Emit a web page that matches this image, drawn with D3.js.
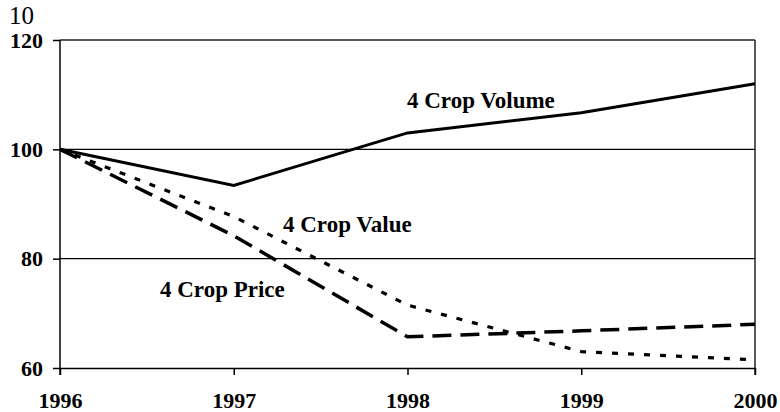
<!DOCTYPE html>
<html>
<head>
<meta charset="utf-8">
<script src="https://cdn.jsdelivr.net/npm/d3@7"></script>
<style>
  body { margin: 0; background: #fff; }
  svg text { font-family: "Liberation Serif", "Times New Roman", serif; }
</style>
</head>
<body>
<svg id="chart" width="780" height="412"></svg>
<script>
let years = [1996, 1997, 1998, 1999, 2000];
let volume = [100, 93.4, 103, 106.7, 112];
let value = [100, 87.7, 71.5, 63, 61.5];
let price = [100, 84.2, 65.7, 66.8, 68];
let yTicks = [60, 80, 100, 120];

let svg = d3.select("#chart"),
    plotLeft = 60, plotRight = 755, plotTop = 40, plotBottom = 368;

let xScale = d3.scaleLinear().domain([1996, 2000]).range([plotLeft, plotRight]),
    yScale = d3.scaleLinear().domain([60, 120]).range([plotBottom, plotTop]);

// gridlines at 80 and 100
svg.append("g")
    .selectAll("line")
    .data(yTicks.filter(d => d > 60 && d < 120))
    .enter()
    .append("line")
    .attr("x1", plotLeft).attr("x2", plotRight)
    .attr("y1", d => yScale(d)).attr("y2", d => yScale(d))
    .attr("stroke", "#000")
    .attr("stroke-width", 1.2);

// frame top and right
svg.append("line")
    .attr("x1", plotLeft).attr("x2", plotRight)
    .attr("y1", plotTop).attr("y2", plotTop)
    .attr("stroke", "#222").attr("stroke-width", 1.5);
svg.append("line")
    .attr("x1", plotRight).attr("x2", plotRight)
    .attr("y1", plotTop).attr("y2", plotBottom + 7)
    .attr("stroke", "#222").attr("stroke-width", 1.5);

let yAxis = svg.append("g")
    .attr("transform", "translate(" + plotLeft + ",0)")
    .call(d3.axisLeft(yScale).tickValues(yTicks).tickSize(7).tickPadding(10).tickSizeOuter(0));

let xAxis = svg.append("g")
    .attr("transform", "translate(0," + plotBottom + ")")
    .call(d3.axisBottom(xScale).tickValues(years).tickFormat(d3.format("d")).tickSize(7).tickPadding(17).tickSizeOuter(0));

[yAxis, xAxis].forEach(a => {
    a.select(".domain").attr("stroke", "#000").attr("stroke-width", 1.5);
    a.selectAll(".tick line").attr("stroke", "#000").attr("stroke-width", 1.5);
    a.selectAll(".tick text")
        .attr("fill", "#000")
        .style("font-family", "Liberation Serif")
        .style("font-weight", "bold")
        .style("font-size", "22px");
});
// left axis runs down to the tick length
yAxis.select(".domain").attr("d", "M0," + plotTop + "V" + (plotBottom + 7));

// "10" note above axis
svg.append("text")
    .attr("x", 9).attr("y", 24)
    .style("font-size", "25px")
    .text("10");

let line = d3.line()
    .x((d, i) => xScale(years[i]))
    .y(d => yScale(d));

svg.append("path")
    .datum(volume)
    .attr("d", line)
    .attr("fill", "none")
    .attr("stroke", "#000")
    .attr("stroke-width", 3);

svg.append("path")
    .datum(value)
    .attr("d", line)
    .attr("fill", "none")
    .attr("stroke", "#000")
    .attr("stroke-width", 3.2)
    .attr("stroke-dasharray", "6,10");

svg.append("path")
    .datum(price)
    .attr("d", line)
    .attr("fill", "none")
    .attr("stroke", "#000")
    .attr("stroke-width", 3.5)
    .attr("stroke-dasharray", "19,9");

let labels = [
    {text: "4 Crop Volume", x: 407, y: 108},
    {text: "4 Crop Value", x: 283, y: 232},
    {text: "4 Crop Price", x: 160, y: 297}
];
svg.append("g")
    .selectAll("text")
    .data(labels)
    .enter()
    .append("text")
    .attr("x", d => d.x)
    .attr("y", d => d.y)
    .style("font-weight", "bold")
    .style("font-size", "23px")
    .text(d => d.text);
</script>
</body>
</html>
